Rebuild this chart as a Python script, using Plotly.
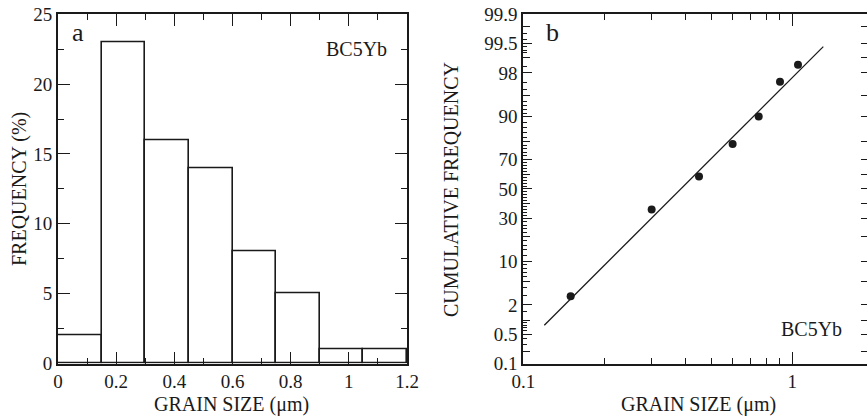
import math
from statistics import NormalDist
import plotly.graph_objects as go

# ---------------- data ----------------
bin_edges = [0.0, 0.15, 0.30, 0.45, 0.60, 0.75, 0.90, 1.05, 1.20]
frequency = [2, 23, 16, 14, 8, 5, 1, 1]

cum_size = [0.15, 0.30, 0.45, 0.60, 0.75, 0.90, 1.05]
cum_freq = [2.86, 35.7, 58.6, 78.6, 90.0, 97.1, 98.6]

fit_size = [0.1197, 1.304]
fit_freq = [0.79, 99.41]

prob_labels = [0.1, 0.5, 2, 10, 30, 50, 70, 90, 98, 99.5, 99.9]
prob_right_ticks = [0.2, 0.5, 1, 2, 5, 10, 20, 30, 40, 50, 60, 70, 80, 90, 95, 98, 99, 99.5, 99.8]
prob_medium_ticks = [0.2, 1, 5, 20, 40, 60, 80, 95, 99, 99.8]
prob_minor_ticks = ([0.2, 0.3, 0.4, 0.6, 0.7, 0.8, 0.9, 1, 1.5, 3, 4, 5, 6, 7, 8, 9]
                    + [v for v in range(12, 90, 2) if v not in (30, 50, 70)]
                    + [91, 92, 93, 94, 95, 96, 97, 98.5, 99, 99.2, 99.3, 99.4, 99.6, 99.7, 99.8])
size_minor_ticks = [0.2, 0.3, 0.4, 0.5, 0.6, 0.7, 0.8, 0.9]
size_major_ticks = [0.1, 1]

# ---------------- helpers ----------------
nd = NormalDist()
def z(p):
    return nd.inv_cdf(p / 100.0)

W, H = 867, 420
def px(x):
    return x / W
def py(y):
    return 1 - y / H

FONT = "Liberation Serif, Times New Roman, serif"
BLACK = "#1a1a1a"

centers = [(a + b) / 2 for a, b in zip(bin_edges[:-1], bin_edges[1:])]
widths = [b - a for a, b in zip(bin_edges[:-1], bin_edges[1:])]

fig = go.Figure()

fig.add_trace(go.Bar(
    x=centers, y=frequency, width=widths,
    marker=dict(color="white", line=dict(color=BLACK, width=1.6)),
    xaxis="x", yaxis="y", showlegend=False,
))

fig.add_trace(go.Scatter(
    x=fit_size, y=[z(p) for p in fit_freq], mode="lines",
    line=dict(color=BLACK, width=1.3),
    xaxis="x2", yaxis="y2", showlegend=False,
))
fig.add_trace(go.Scatter(
    x=cum_size, y=[z(p) for p in cum_freq], mode="markers",
    marker=dict(color=BLACK, size=8),
    xaxis="x2", yaxis="y2", showlegend=False,
))

dom_y = [py(363.5), py(14.3)]
dom_x1 = [px(58), px(407)]
dom_x2 = [px(523.3), 1.0]
zr = [z(0.1), z(99.9)]
xr2 = [-1, -1 + (867 - 523.3) / 269.0]

tickfont = dict(family=FONT, size=19, color=BLACK)

fig.update_layout(
    width=W, height=H,
    margin=dict(l=0, r=0, t=0, b=0),
    paper_bgcolor="white", plot_bgcolor="white",
    bargap=0,
    font=dict(family=FONT, size=19, color=BLACK),
    xaxis=dict(
        domain=dom_x1, range=[0, 1.2], anchor="y",
        tickmode="linear", tick0=0, dtick=0.2,
        ticks="inside", ticklen=12, tickwidth=1.3, tickcolor=BLACK,
        minor=dict(dtick=0.1, ticks="inside", ticklen=6, tickwidth=1.3, tickcolor=BLACK),
        showline=True, linecolor=BLACK, linewidth=1.8, mirror="ticks",
        showgrid=False, zeroline=False, tickfont=tickfont, automargin=False,
        ticklabeloverflow="allow",
    ),
    yaxis=dict(
        domain=dom_y, range=[0, 25], anchor="x",
        tickmode="linear", tick0=0, dtick=5,
        ticks="inside", ticklen=12, tickwidth=1.3, tickcolor=BLACK,
        minor=dict(dtick=2.5, ticks="inside", ticklen=6, tickwidth=1.3, tickcolor=BLACK),
        showline=True, linecolor=BLACK, linewidth=1.8, mirror="ticks",
        showgrid=False, zeroline=False, tickfont=tickfont, automargin=False,
        ticklabeloverflow="allow",
    ),
    xaxis2=dict(
        domain=dom_x2, range=xr2, type="log", anchor="y2",
        tickmode="array", tickvals=size_major_ticks, ticktext=["0.1", "1"],
        ticks="inside", ticklen=12, tickwidth=1.3, tickcolor=BLACK,
        minor=dict(tickmode="array", tickvals=size_minor_ticks, ticks="inside",
                   ticklen=6, tickwidth=1.3, tickcolor=BLACK),
        showline=True, linecolor=BLACK, linewidth=1.8,
        showgrid=False, zeroline=False, tickfont=tickfont, automargin=False,
        ticklabeloverflow="allow",
    ),
    yaxis2=dict(
        domain=dom_y, range=zr, anchor="x2",
        tickmode="array", tickvals=[z(p) for p in prob_labels],
        ticktext=[str(p) for p in prob_labels],
        ticks="inside", ticklen=9, tickwidth=1.3, tickcolor=BLACK,
        minor=dict(tickmode="array", tickvals=[z(p) for p in prob_minor_ticks],
                   ticks="inside", ticklen=4, tickwidth=1, tickcolor=BLACK),
        showline=True, linecolor=BLACK, linewidth=1.8,
        showgrid=False, zeroline=False, tickfont=tickfont, automargin=False,
        ticklabeloverflow="allow",
    ),
    xaxis3=dict(
        domain=dom_x2, range=xr2, type="log", anchor="y2", overlaying="x2", side="top",
        tickmode="array", tickvals=[1], showticklabels=False,
        ticks="inside", ticklen=12, tickwidth=1.3, tickcolor=BLACK,
        minor=dict(tickmode="array", tickvals=size_minor_ticks, ticks="inside",
                   ticklen=6, tickwidth=1.3, tickcolor=BLACK),
        showline=True, linecolor=BLACK, linewidth=1.8,
        showgrid=False, zeroline=False, automargin=False,
    ),
    yaxis3=dict(
        domain=dom_y, range=zr, anchor="x2", overlaying="y2", side="right",
        tickmode="array", tickvals=[z(p) for p in prob_right_ticks], showticklabels=False,
        ticks="inside", ticklen=6, tickwidth=1.3, tickcolor=BLACK,
        showline=False,
        showgrid=False, zeroline=False, automargin=False,
    ),
    yaxis4=dict(
        domain=dom_y, range=zr, anchor="x2", overlaying="y2", side="left",
        tickmode="array", tickvals=[z(p) for p in prob_medium_ticks], showticklabels=False,
        ticks="inside", ticklen=7, tickwidth=1.2, tickcolor=BLACK,
        showline=False, showgrid=False, zeroline=False, automargin=False,
    ),
)

# dummy traces so overlay axes are drawn
fig.add_trace(go.Scatter(x=[None], y=[None], xaxis="x3", yaxis="y3", showlegend=False, hoverinfo="skip"))
fig.add_trace(go.Scatter(x=[None], y=[None], xaxis="x2", yaxis="y4", showlegend=False, hoverinfo="skip"))

ann = [
    dict(text="a", x=px(70), y=py(33), xanchor="left", yanchor="middle", font=dict(size=26)),
    dict(text="BC5Yb", x=px(389), y=py(49), xanchor="right", yanchor="middle", font=dict(size=20)),
    dict(text="b", x=px(544), y=py(33), xanchor="left", yanchor="middle", font=dict(size=26)),
    dict(text="BC5Yb", x=px(844), y=py(329), xanchor="right", yanchor="middle", font=dict(size=20)),
    dict(text="GRAIN SIZE (μm)", x=px(232), y=py(404), xanchor="center", yanchor="middle", font=dict(size=20)),
    dict(text="GRAIN SIZE (μm)", x=px(698), y=py(404), xanchor="center", yanchor="middle", font=dict(size=20)),
    dict(text="FREQUENCY (%)", x=px(20), y=py(189), xanchor="center", yanchor="middle", textangle=-90, font=dict(size=20)),
    dict(text="CUMULATIVE FREQUENCY", x=px(451), y=py(190), xanchor="center", yanchor="middle", textangle=-90, font=dict(size=20)),
]
for a in ann:
    a.update(xref="paper", yref="paper", showarrow=False)
    a["font"] = dict(family=FONT, color=BLACK, **a["font"])
fig.update_layout(annotations=ann)

fig.write_html(
    "out.html",
    config={"displayModeBar": False},
    post_script="document.body.style.margin='0';document.body.style.overflow='hidden';",
)
